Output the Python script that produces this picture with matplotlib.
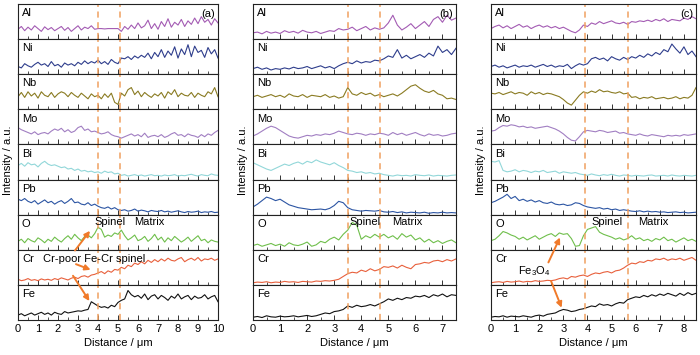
import numpy as np
import matplotlib
matplotlib.use("Agg")
import matplotlib.pyplot as plt
from matplotlib.patches import ConnectionPatch
from matplotlib.ticker import MultipleLocator

plt.rcParams['font.family'] = ['Liberation Sans', 'DejaVu Sans']
plt.rcParams['font.size'] = 8
plt.rcParams['mathtext.fontset'] = 'custom'
plt.rcParams['mathtext.rm'] = 'Liberation Sans'
plt.rcParams['mathtext.it'] = 'Liberation Sans:italic'
plt.rcParams['mathtext.bf'] = 'Liberation Sans:bold'

elements = ["Al", "Ni", "Nb", "Mo", "Bi", "Pb", "O", "Cr", "Fe"]
colors = ["#a35bb3", "#2e3d8c", "#8a7b22", "#a17ec2", "#92d7d9",
          "#2c55a3", "#6fbf4b", "#e8603c", "#111111"]

# ---------------- panel (a): 0-10 um ----------------
xmax_a = 10.0
al_a = [28,36,24,34,26,38,30,22,35,27,33,24,30,36,25,33,22,30,38,26,34,30,38,28,
        30,30,29,30,30,30,30,
        22,36,28,40,30,46,32,38,54,30,44,28,50,36,58,34,48,40,56,36,52,42,60,44,64,48,56,40,58,46]
ni_a = [22,18,30,24,20,28,34,26,30,22,36,24,28,20,32,26,30,24,34,28,38,30,36,32,
        40,30,36,28,42,34,30,
        46,44,50,42,52,46,54,48,60,44,62,50,70,48,66,54,78,46,72,56,84,50,80,62,68,48,76,58,70,46]
nb_a = [36,48,34,50,38,46,32,50,40,36,48,34,44,50,46,36,48,40,34,46,38,30,44,36,
        40,30,44,34,46,20,14,
        46,38,56,62,42,52,36,48,40,34,44,38,48,32,50,42,56,36,46,40,38,48,34,46,40,36,50,44,62,36]
mo_a = [48,42,38,34,30,36,28,32,34,30,38,44,40,46,36,42,34,38,48,52,40,44,36,38,
        34,30,32,36,28,24,22,
        18,22,26,30,24,28,22,32,20,24,26,22,28,20,24,30,34,26,28,22,30,26,24,20,28,22,30,26,34,40]
bi_a = [40,46,38,48,42,44,36,46,52,44,40,42,38,34,36,30,32,26,30,24,26,22,24,20,
        22,18,24,20,22,16,18,
        12,14,10,12,14,11,13,10,12,14,11,12,10,13,11,12,14,10,12,11,13,15,12,10,14,12,11,16,13,12]
pb_a = [44,40,46,38,34,40,30,36,42,34,38,30,36,40,32,38,46,34,36,30,28,34,26,30,
        24,20,18,22,16,20,14,
        12,14,10,12,16,10,13,11,8,12,10,9,12,8,10,7,9,11,8,6,9,7,8,10,6,8,7,9,6,7]
o_a = [24,30,20,32,26,22,34,28,20,30,24,36,28,22,32,40,30,44,34,26,38,42,34,46,
       64,58,36,42,38,48,44,
       56,40,28,34,42,26,30,38,24,32,44,28,36,22,34,26,38,30,22,28,36,24,32,40,26,30,20,28,24,22]
cr_a = [16,12,14,18,13,15,12,17,14,16,13,18,15,20,17,14,19,22,18,24,26,22,28,30,
        34,38,32,40,36,44,42,
        50,46,56,52,62,58,66,60,70,64,72,66,74,68,76,70,68,74,78,66,72,76,70,78,68,74,72,76,70,74]
fe_a = [14,18,12,16,20,14,18,22,16,20,14,22,18,16,24,20,22,24,26,25,28,30,52,46,
        40,36,38,34,42,38,50,
        56,60,84,72,66,70,62,74,58,68,72,60,70,64,56,68,62,74,60,66,70,58,68,62,64,72,60,66,70,52]

# ---------------- panel (b): 0-7.5 um ----------------
xmax_b = 7.5
al_b = [18,20,15,22,17,20,16,24,19,22,17,25,20,18,22,16,20,24,22,30,26,
        28,34,24,30,36,26,32,28,
        32,46,68,40,26,34,44,30,40,50,36,56,64,48,68,54,60]
ni_b = [16,20,14,18,12,16,14,18,15,20,16,18,22,16,20,24,18,22,16,24,30,
        34,30,38,32,36,34,40,38,
        44,52,48,70,46,54,44,50,56,48,60,52,80,62,70,56,74]
nb_b = [36,40,34,38,42,36,40,34,44,38,36,42,34,40,38,36,42,34,38,32,36,
        62,44,40,48,42,46,38,42,
        36,40,44,38,46,56,66,70,60,52,48,54,44,40,30,32,28]
mo_b = [24,30,38,46,52,48,40,32,24,20,18,22,26,24,28,26,30,28,32,38,34,
        30,28,32,30,26,30,28,32,
        30,26,34,28,32,26,30,34,28,24,30,26,28,24,26,30,32]
bi_b = [48,42,36,30,26,32,38,44,40,46,50,44,52,48,56,50,46,42,48,40,34,
        26,24,20,22,18,20,16,18,
        14,12,10,13,11,12,10,14,12,11,13,10,12,11,10,12,13]
pb_b = [22,30,40,50,46,40,44,36,28,24,20,18,16,14,15,16,14,18,26,38,34,
        20,14,12,10,12,11,10,12,
        8,7,9,6,8,5,7,6,5,7,4,6,5,7,5,6,5]
o_b = [12,16,10,14,18,12,16,10,20,14,12,16,22,10,14,24,20,30,36,28,44,
       56,78,70,30,40,34,44,36,
       44,34,40,30,46,36,42,28,34,22,30,20,26,18,24,28,20]
cr_b = [6,8,7,9,6,8,7,10,8,9,7,10,9,8,11,10,12,11,13,16,24,
        32,36,34,42,38,46,40,44,
        52,50,54,48,56,50,46,58,60,64,62,68,70,66,72,68,74]
fe_b = [8,10,7,12,9,8,11,9,10,12,9,11,13,10,12,16,20,18,24,26,30,
        40,36,42,38,40,44,40,46,
        52,60,56,62,58,64,62,68,66,70,64,72,68,74,66,72,70]

# ---------------- panel (c): 0-8.5 um ----------------
xmax_c = 8.5
al_c = [30,36,40,32,38,30,36,42,34,38,30,36,40,34,38,32,36,30,34,28,22,18,26,
        40,36,46,42,50,44,48,52,46,44,48,42,
        50,48,52,50,54,50,56,52,58,50,56,54,52,60,56,64,58]
ni_c = [22,26,20,24,18,22,26,20,24,22,26,20,24,28,22,26,20,24,22,28,16,24,30,
        26,30,44,48,42,46,38,50,44,40,48,42,
        50,46,54,48,58,52,62,56,70,64,86,72,60,78,56,66,50]
nb_c = [46,44,48,42,46,50,44,48,46,40,50,44,48,42,46,44,40,36,28,18,12,26,40,
        50,46,52,48,56,50,52,48,46,50,44,46,
        34,36,30,34,32,36,30,32,34,30,32,36,30,34,32,40,62]
mo_c = [38,40,48,54,52,56,54,50,52,48,50,46,48,50,52,48,44,38,30,20,12,10,22,
        36,40,38,36,40,38,34,36,38,32,34,30,
        28,26,30,26,24,28,26,24,22,26,24,26,24,28,26,28,30]
bi_c = [52,50,54,26,22,24,28,22,26,24,20,24,22,26,20,22,24,18,22,20,18,20,16,
        14,12,16,13,11,14,12,15,12,10,13,12,
        10,12,11,10,12,13,10,11,12,10,13,11,10,12,11,10,12]
pb_c = [34,38,44,50,58,46,52,40,44,38,42,36,40,34,32,36,30,28,30,26,28,34,32,
        26,22,20,18,20,16,18,14,16,12,14,12,
        10,9,11,8,10,8,9,7,8,6,7,8,6,7,5,6,7]
o_c = [26,30,40,52,48,42,38,30,36,28,34,40,30,36,42,46,38,48,44,46,32,10,12,
       40,58,62,66,50,44,40,36,30,34,28,32,
       40,30,34,26,30,24,32,28,36,26,30,22,28,34,26,30,24]
cr_c = [6,8,9,7,10,8,9,11,8,10,9,12,10,11,13,12,14,18,20,17,24,22,26,
        28,24,30,34,32,36,38,34,40,42,48,56,
        62,60,66,64,70,68,74,72,76,70,74,72,76,70,74,78,70]
fe_c = [8,10,9,12,8,11,10,9,12,10,8,12,14,11,16,18,20,26,30,28,24,26,30,
        32,36,40,38,46,42,44,40,46,50,48,58,
        62,66,64,70,66,72,68,74,70,76,72,68,76,70,78,72,76]

dashes_a = [4.0, 5.1]
dashes_b = [3.5, 4.7]
dashes_c = [3.9, 5.7]
tick_labels_a = list(range(0, 11))
tick_labels_b = list(range(0, 8))
tick_labels_c = list(range(0, 9))
panel_tags = ["(a)", "(b)", "(c)"]

panels = [
    dict(xmax=xmax_a, series=[al_a, ni_a, nb_a, mo_a, bi_a, pb_a, o_a, cr_a, fe_a],
         dashes=dashes_a, ticks=tick_labels_a, px=(18, 218), ylab_x=8),
    dict(xmax=xmax_b, series=[al_b, ni_b, nb_b, mo_b, bi_b, pb_b, o_b, cr_b, fe_b],
         dashes=dashes_b, ticks=tick_labels_b, px=(253, 456), ylab_x=243),
    dict(xmax=xmax_c, series=[al_c, ni_c, nb_c, mo_c, bi_c, pb_c, o_c, cr_c, fe_c],
         dashes=dashes_c, ticks=tick_labels_c, px=(491, 696), ylab_x=481),
]

W, H = 700, 355
fig = plt.figure(figsize=(W / 100, H / 100), dpi=100)
top_px, bot_px = 4, 320
sub_h = (bot_px - top_px) / 9
dash_col = "#f0a060"
arrow_col = "#f07a2a"

all_axes = []
for p, tag in zip(panels, panel_tags):
    x0, x1 = p["px"]
    axes = []
    for k, (el, col, ys) in enumerate(zip(elements, colors, p["series"])):
        bottom = H - (top_px + (k + 1) * sub_h)
        ax = fig.add_axes([x0 / W, bottom / H, (x1 - x0) / W, sub_h / H])
        xs = np.linspace(0, p["xmax"], len(ys))
        ax.plot(xs, ys, color=col, lw=0.8)
        ax.set_xlim(0, p["xmax"])
        ax.set_ylim(0, 100)
        ax.set_yticks([])
        ax.xaxis.set_major_locator(MultipleLocator(1))
        ax.xaxis.set_minor_locator(MultipleLocator(0.5))
        ax.tick_params(axis='x', which='both', direction='in', top=False, color='#333333')
        ax.tick_params(axis='x', which='major', length=3.5, width=0.7)
        ax.tick_params(axis='x', which='minor', length=2, width=0.6)
        for s in ax.spines.values():
            s.set_linewidth(0.8)
            s.set_color('#222222')
        for d in p["dashes"]:
            ax.axvline(d, color=dash_col, lw=1.1, ls=(0, (4, 3)))
        ax.text(0.02, 0.88, el, transform=ax.transAxes, ha='left', va='top', fontsize=8)
        if k < 8:
            ax.set_xticklabels([])
        else:
            ax.set_xticks(p["ticks"])
            ax.set_xticklabels([str(t) for t in p["ticks"]], fontsize=8)
            ax.tick_params(axis='x', which='major', pad=3)
        axes.append(ax)
    axes[0].text(0.985, 0.86, tag, transform=axes[0].transAxes, ha='right', va='top', fontsize=8)
    fig.text(p["ylab_x"] / W, 1 - 160 / H, "Intensity / a.u.", rotation=90,
             ha='center', va='center', fontsize=8)
    fig.text(((x0 + x1) / 2) / W, 1 - 343 / H, "Distance / μm", ha='center', va='center', fontsize=8)
    all_axes.append(axes)

# text annotations
ax_o = [a[6] for a in all_axes]
ax_cr = [a[7] for a in all_axes]
ax_fe = [a[8] for a in all_axes]
spinel_x = [3.8, 3.55, 4.15]
matrix_x = [5.8, 5.13, 6.1]
for i in range(3):
    ax_o[i].text(spinel_x[i], 80, "Spinel", ha='left', va='center', fontsize=8)
    ax_o[i].text(matrix_x[i], 80, "Matrix", ha='left', va='center', fontsize=8)

ax_cr[0].text(1.25, 74, "Cr-poor Fe-Cr spinel", ha='left', va='center', fontsize=8)
ax_cr[2].text(1.12, 40, "Fe$_3$O$_4$", ha='left', va='center', fontsize=8)


def arrow(axA, xyA, axB, xyB):
    cp = ConnectionPatch(xyA=xyA, coordsA="data", axesA=axA,
                         xyB=xyB, coordsB="data", axesB=axB,
                         arrowstyle="-|>", mutation_scale=8, color=arrow_col, lw=1.4)
    fig.add_artist(cp)


arrow(ax_cr[0], (2.85, 98), ax_o[0], (3.6, 54))
arrow(ax_cr[0], (2.9, 59), ax_cr[0], (3.63, 43))
arrow(ax_cr[0], (2.75, 26), ax_fe[0], (3.57, 54))
arrow(ax_cr[2], (2.38, 64), ax_o[2], (2.86, 35))
arrow(ax_cr[2], (2.49, 11), ax_fe[2], (2.93, 35))

fig.savefig("out.png", dpi=100)
